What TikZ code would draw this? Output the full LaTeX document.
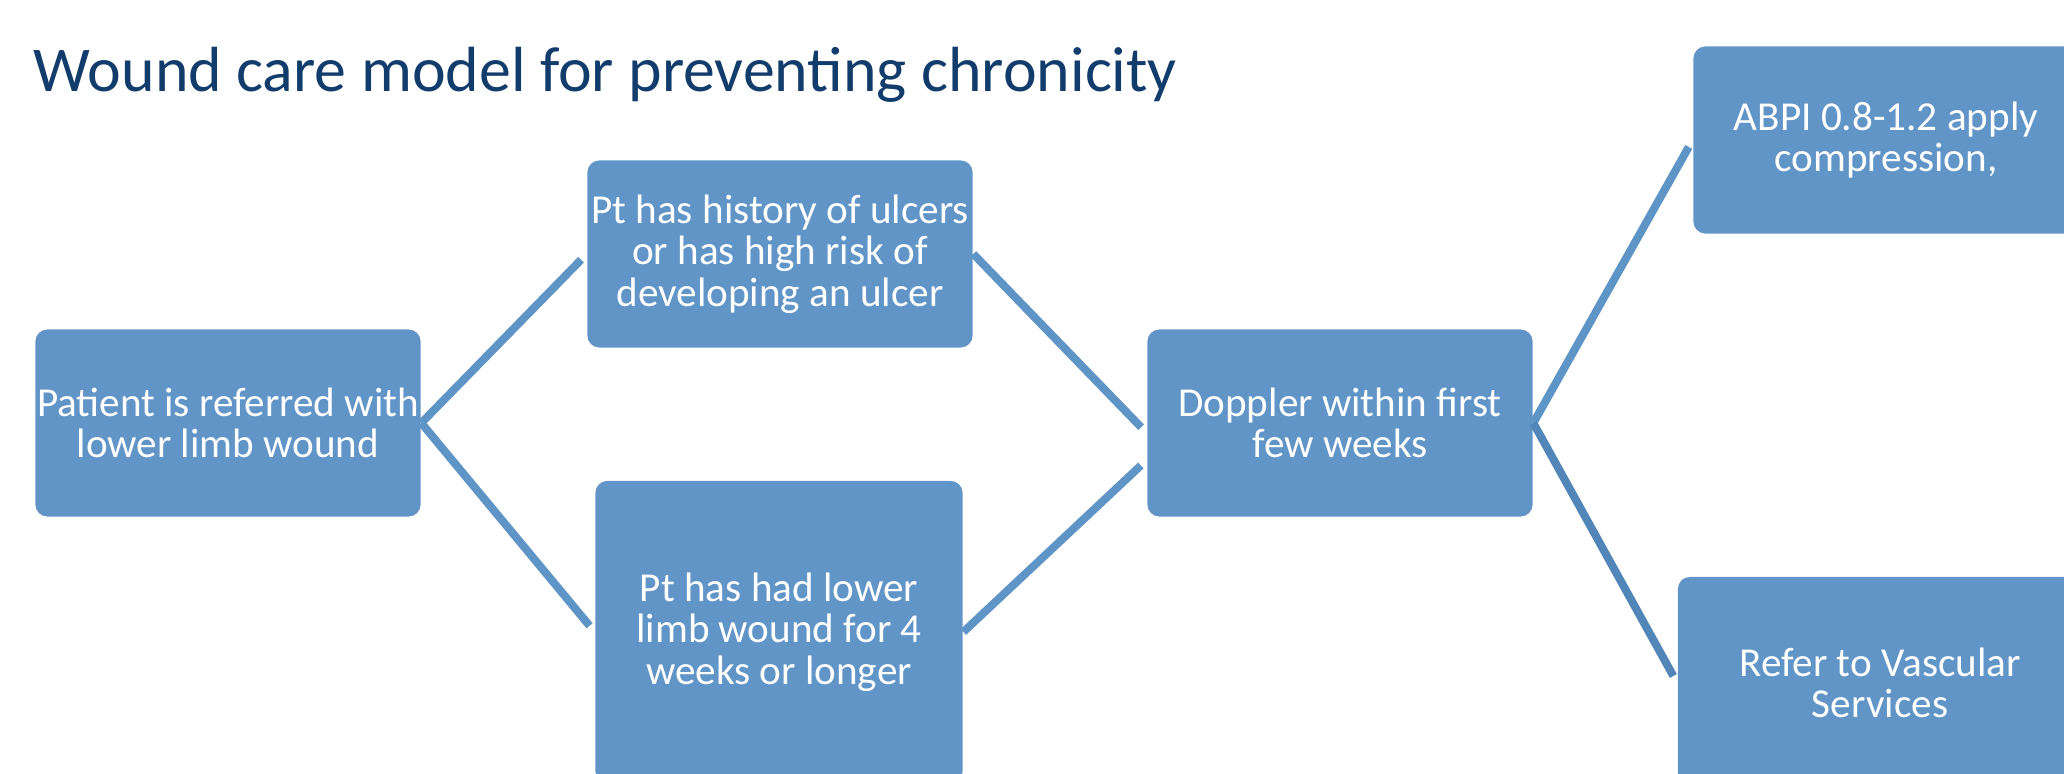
\documentclass[tikz,border=0pt]{standalone}
\usepackage{fontspec}
\setmainfont{Carlito}
\usepackage{tikz}
\usetikzlibrary{positioning}
\definecolor{titleblue}{RGB}{18,60,108}
\definecolor{boxblue}{RGB}{97,149,199}
\definecolor{linkblue}{RGB}{95,148,199}
\definecolor{linkdark}{RGB}{82,133,184}

\begin{document}
\begin{tikzpicture}[x=0.01cm,y=-0.01cm]
        \useasboundingbox (0,0) rectangle (2064,774);
        \clip (0,0) rectangle (2064,774);
        \node[anchor=base west, inner sep=0pt, text=titleblue, font=\fontsize{18.15}{21}\selectfont] (title) at (33,92) {Wound care model for preventing chronicity};
        \begin{scope}[every node/.style={rectangle,rounded corners=0.12cm,fill=boxblue,text=white,align=center,inner sep=0pt,minimum width=3.85cm,minimum height=1.87cm,font=\fontsize{11.7}{11.8}\selectfont}]
        \node (a) at (228,423) {Patient is referred with\\lower limb wound};
        \node (b) at (780,254) {Pt has history of ulcers\\or has high risk of\\developing an ulcer};
        \node[minimum width=3.67cm,minimum height=3.02cm] (c) at (779,632) {Pt has had lower\\limb wound for 4\\weeks or longer};
        \node (d) at (1340,423) {Doppler within first\\few weeks};
        \node (e) at (1886,140) {ABPI 0.8-1.2 apply\\compression,};
        \node[minimum width=4.04cm,minimum height=2.12cm] (f) at (1880,683) {Refer to Vascular\\Services};
        \end{scope}
        \begin{scope}[every edge/.style={draw=linkblue,line width=0.08cm,shorten >=0.08cm}]
        \path (a.east) edge (b.west);
        \path (a.east) edge (c.west);
        \path (b.east) edge ([yshift=-0.1cm]d.west);
        \path (c.east) edge ([yshift=-0.37cm]d.west);
        \path (d.east) edge (e.west);
        \path (d.east) edge[draw=linkdark] (f.west);
        \end{scope}
        \end{tikzpicture}
\end{document}
